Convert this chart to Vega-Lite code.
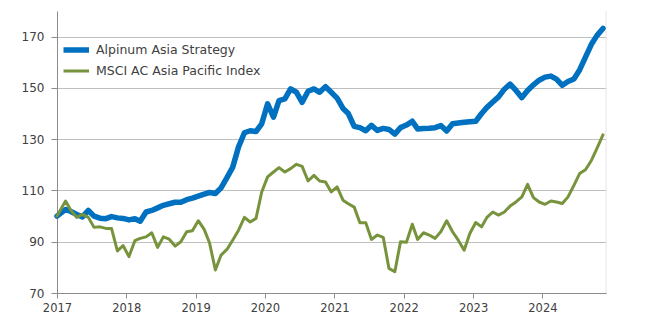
{
  "$schema": "https://vega.github.io/schema/vega-lite/v6.json",
  "width": 549,
  "height": 282,
  "autosize": {"type": "none"},
  "padding": {"left": 57, "top": 11, "right": 40, "bottom": 30},
  "background": "white",
  "config": {
    "view": {"stroke": null},
    "font": "DejaVu Sans",
    "axis": {"labelFont": "DejaVu Sans", "labelFontSize": 12, "labelColor": "#404040", "domainColor": "#8c8c8c", "tickColor": "#8c8c8c", "title": null}
  },
  "layer": [
    {
      "data": {"values": [{"edge": "right"}]},
      "mark": {"type": "rule", "color": "#e6e6e6", "strokeWidth": 1},
      "encoding": {
        "x": {"datum": {"year": 2024, "month": 12, "date": 1, "utc": true}, "type": "temporal", "scale": {"type": "utc"}}
      }
    },
    {
      "data": {"values": [
        {"date": "2017-01-01", "Alpinum Asia Strategy": 100, "MSCI AC Asia Pacific Index": 100},
        {"date": "2017-02-15", "Alpinum Asia Strategy": 102.6, "MSCI AC Asia Pacific Index": 105.9},
        {"date": "2017-03-15", "Alpinum Asia Strategy": 101.8, "MSCI AC Asia Pacific Index": 102.3},
        {"date": "2017-04-15", "Alpinum Asia Strategy": 100.6, "MSCI AC Asia Pacific Index": 99.5},
        {"date": "2017-05-15", "Alpinum Asia Strategy": 99.7, "MSCI AC Asia Pacific Index": 100.7},
        {"date": "2017-06-15", "Alpinum Asia Strategy": 102.2, "MSCI AC Asia Pacific Index": 99.5},
        {"date": "2017-07-15", "Alpinum Asia Strategy": 100, "MSCI AC Asia Pacific Index": 95.6},
        {"date": "2017-08-15", "Alpinum Asia Strategy": 99.2, "MSCI AC Asia Pacific Index": 95.8},
        {"date": "2017-09-15", "Alpinum Asia Strategy": 99, "MSCI AC Asia Pacific Index": 95.2},
        {"date": "2017-10-15", "Alpinum Asia Strategy": 99.8, "MSCI AC Asia Pacific Index": 95.2},
        {"date": "2017-11-15", "Alpinum Asia Strategy": 99.3, "MSCI AC Asia Pacific Index": 86.4},
        {"date": "2017-12-15", "Alpinum Asia Strategy": 99.1, "MSCI AC Asia Pacific Index": 88.5},
        {"date": "2018-01-15", "Alpinum Asia Strategy": 98.5, "MSCI AC Asia Pacific Index": 84.2},
        {"date": "2018-02-15", "Alpinum Asia Strategy": 99, "MSCI AC Asia Pacific Index": 90.4},
        {"date": "2018-03-15", "Alpinum Asia Strategy": 98, "MSCI AC Asia Pacific Index": 91.3},
        {"date": "2018-04-15", "Alpinum Asia Strategy": 101.6, "MSCI AC Asia Pacific Index": 91.9},
        {"date": "2018-05-15", "Alpinum Asia Strategy": 102.2, "MSCI AC Asia Pacific Index": 93.5},
        {"date": "2018-06-15", "Alpinum Asia Strategy": 103.2, "MSCI AC Asia Pacific Index": 87.8},
        {"date": "2018-07-15", "Alpinum Asia Strategy": 104.2, "MSCI AC Asia Pacific Index": 91.9},
        {"date": "2018-08-15", "Alpinum Asia Strategy": 104.8, "MSCI AC Asia Pacific Index": 91},
        {"date": "2018-09-15", "Alpinum Asia Strategy": 105.4, "MSCI AC Asia Pacific Index": 88.3},
        {"date": "2018-10-15", "Alpinum Asia Strategy": 105.4, "MSCI AC Asia Pacific Index": 90},
        {"date": "2018-11-15", "Alpinum Asia Strategy": 106.4, "MSCI AC Asia Pacific Index": 93.9},
        {"date": "2018-12-15", "Alpinum Asia Strategy": 107, "MSCI AC Asia Pacific Index": 94.3},
        {"date": "2019-01-15", "Alpinum Asia Strategy": 107.8, "MSCI AC Asia Pacific Index": 98.2},
        {"date": "2019-02-15", "Alpinum Asia Strategy": 108.6, "MSCI AC Asia Pacific Index": 94.8},
        {"date": "2019-03-15", "Alpinum Asia Strategy": 109.2, "MSCI AC Asia Pacific Index": 89.6},
        {"date": "2019-04-15", "Alpinum Asia Strategy": 108.8, "MSCI AC Asia Pacific Index": 79},
        {"date": "2019-05-15", "Alpinum Asia Strategy": 111, "MSCI AC Asia Pacific Index": 84.8},
        {"date": "2019-06-15", "Alpinum Asia Strategy": 115, "MSCI AC Asia Pacific Index": 87},
        {"date": "2019-07-15", "Alpinum Asia Strategy": 119, "MSCI AC Asia Pacific Index": 90.6},
        {"date": "2019-08-15", "Alpinum Asia Strategy": 127, "MSCI AC Asia Pacific Index": 94.5},
        {"date": "2019-09-15", "Alpinum Asia Strategy": 132.5, "MSCI AC Asia Pacific Index": 99.5},
        {"date": "2019-10-15", "Alpinum Asia Strategy": 133.3, "MSCI AC Asia Pacific Index": 97.7},
        {"date": "2019-11-15", "Alpinum Asia Strategy": 133, "MSCI AC Asia Pacific Index": 99.1},
        {"date": "2019-12-15", "Alpinum Asia Strategy": 136, "MSCI AC Asia Pacific Index": 109.4},
        {"date": "2020-01-15", "Alpinum Asia Strategy": 143.8, "MSCI AC Asia Pacific Index": 115.3},
        {"date": "2020-02-15", "Alpinum Asia Strategy": 138.6, "MSCI AC Asia Pacific Index": 117.2},
        {"date": "2020-03-15", "Alpinum Asia Strategy": 145, "MSCI AC Asia Pacific Index": 118.9},
        {"date": "2020-04-15", "Alpinum Asia Strategy": 145.7, "MSCI AC Asia Pacific Index": 117.2},
        {"date": "2020-05-15", "Alpinum Asia Strategy": 149.6, "MSCI AC Asia Pacific Index": 118.5},
        {"date": "2020-06-15", "Alpinum Asia Strategy": 148.3, "MSCI AC Asia Pacific Index": 120.2},
        {"date": "2020-07-15", "Alpinum Asia Strategy": 144.4, "MSCI AC Asia Pacific Index": 119.4},
        {"date": "2020-08-15", "Alpinum Asia Strategy": 148.7, "MSCI AC Asia Pacific Index": 113.7},
        {"date": "2020-09-15", "Alpinum Asia Strategy": 149.6, "MSCI AC Asia Pacific Index": 115.9},
        {"date": "2020-10-15", "Alpinum Asia Strategy": 148.3, "MSCI AC Asia Pacific Index": 113.7},
        {"date": "2020-11-15", "Alpinum Asia Strategy": 150.5, "MSCI AC Asia Pacific Index": 113.3},
        {"date": "2020-12-15", "Alpinum Asia Strategy": 148.3, "MSCI AC Asia Pacific Index": 109.4},
        {"date": "2021-01-15", "Alpinum Asia Strategy": 146, "MSCI AC Asia Pacific Index": 111.4},
        {"date": "2021-02-15", "Alpinum Asia Strategy": 142, "MSCI AC Asia Pacific Index": 106.2},
        {"date": "2021-03-15", "Alpinum Asia Strategy": 140, "MSCI AC Asia Pacific Index": 104.8},
        {"date": "2021-04-15", "Alpinum Asia Strategy": 135, "MSCI AC Asia Pacific Index": 103.5},
        {"date": "2021-05-15", "Alpinum Asia Strategy": 134.5, "MSCI AC Asia Pacific Index": 97.4},
        {"date": "2021-06-15", "Alpinum Asia Strategy": 133.3, "MSCI AC Asia Pacific Index": 97.4},
        {"date": "2021-07-15", "Alpinum Asia Strategy": 135.4, "MSCI AC Asia Pacific Index": 90.9},
        {"date": "2021-08-15", "Alpinum Asia Strategy": 133.4, "MSCI AC Asia Pacific Index": 92.6},
        {"date": "2021-09-15", "Alpinum Asia Strategy": 134.2, "MSCI AC Asia Pacific Index": 91.7},
        {"date": "2021-10-15", "Alpinum Asia Strategy": 133.8, "MSCI AC Asia Pacific Index": 79.6},
        {"date": "2021-11-15", "Alpinum Asia Strategy": 132, "MSCI AC Asia Pacific Index": 78.3},
        {"date": "2021-12-15", "Alpinum Asia Strategy": 134.5, "MSCI AC Asia Pacific Index": 90},
        {"date": "2022-01-15", "Alpinum Asia Strategy": 135.5, "MSCI AC Asia Pacific Index": 89.8},
        {"date": "2022-02-15", "Alpinum Asia Strategy": 137, "MSCI AC Asia Pacific Index": 96.8},
        {"date": "2022-03-15", "Alpinum Asia Strategy": 134, "MSCI AC Asia Pacific Index": 90.9},
        {"date": "2022-04-15", "Alpinum Asia Strategy": 134.2, "MSCI AC Asia Pacific Index": 93.5},
        {"date": "2022-05-15", "Alpinum Asia Strategy": 134.3, "MSCI AC Asia Pacific Index": 92.6},
        {"date": "2022-06-15", "Alpinum Asia Strategy": 134.5, "MSCI AC Asia Pacific Index": 91.3},
        {"date": "2022-07-15", "Alpinum Asia Strategy": 135.3, "MSCI AC Asia Pacific Index": 93.9},
        {"date": "2022-08-15", "Alpinum Asia Strategy": 133.2, "MSCI AC Asia Pacific Index": 98.2},
        {"date": "2022-09-15", "Alpinum Asia Strategy": 136, "MSCI AC Asia Pacific Index": 93.9},
        {"date": "2022-10-15", "Alpinum Asia Strategy": 136.3, "MSCI AC Asia Pacific Index": 90.6},
        {"date": "2022-11-15", "Alpinum Asia Strategy": 136.6, "MSCI AC Asia Pacific Index": 86.7},
        {"date": "2022-12-15", "Alpinum Asia Strategy": 136.8, "MSCI AC Asia Pacific Index": 93.2},
        {"date": "2023-01-15", "Alpinum Asia Strategy": 137, "MSCI AC Asia Pacific Index": 97.5},
        {"date": "2023-02-15", "Alpinum Asia Strategy": 140, "MSCI AC Asia Pacific Index": 95.8},
        {"date": "2023-03-15", "Alpinum Asia Strategy": 142.4, "MSCI AC Asia Pacific Index": 99.5},
        {"date": "2023-04-15", "Alpinum Asia Strategy": 144.5, "MSCI AC Asia Pacific Index": 101.6},
        {"date": "2023-05-15", "Alpinum Asia Strategy": 146.5, "MSCI AC Asia Pacific Index": 100.4},
        {"date": "2023-06-15", "Alpinum Asia Strategy": 149.5, "MSCI AC Asia Pacific Index": 101.6},
        {"date": "2023-07-15", "Alpinum Asia Strategy": 151.5, "MSCI AC Asia Pacific Index": 103.9},
        {"date": "2023-08-15", "Alpinum Asia Strategy": 149, "MSCI AC Asia Pacific Index": 105.5},
        {"date": "2023-09-15", "Alpinum Asia Strategy": 146.2, "MSCI AC Asia Pacific Index": 107.5},
        {"date": "2023-10-15", "Alpinum Asia Strategy": 149, "MSCI AC Asia Pacific Index": 112.4},
        {"date": "2023-11-15", "Alpinum Asia Strategy": 151.2, "MSCI AC Asia Pacific Index": 107.2},
        {"date": "2023-12-15", "Alpinum Asia Strategy": 153, "MSCI AC Asia Pacific Index": 105.5},
        {"date": "2024-01-15", "Alpinum Asia Strategy": 154.2, "MSCI AC Asia Pacific Index": 104.6},
        {"date": "2024-02-15", "Alpinum Asia Strategy": 154.6, "MSCI AC Asia Pacific Index": 105.9},
        {"date": "2024-03-15", "Alpinum Asia Strategy": 153.4, "MSCI AC Asia Pacific Index": 105.5},
        {"date": "2024-04-15", "Alpinum Asia Strategy": 151, "MSCI AC Asia Pacific Index": 104.9},
        {"date": "2024-05-15", "Alpinum Asia Strategy": 152.5, "MSCI AC Asia Pacific Index": 107.5},
        {"date": "2024-06-15", "Alpinum Asia Strategy": 153.5, "MSCI AC Asia Pacific Index": 112},
        {"date": "2024-07-15", "Alpinum Asia Strategy": 157, "MSCI AC Asia Pacific Index": 116.6},
        {"date": "2024-08-15", "Alpinum Asia Strategy": 162, "MSCI AC Asia Pacific Index": 118.1},
        {"date": "2024-09-15", "Alpinum Asia Strategy": 167, "MSCI AC Asia Pacific Index": 121.7},
        {"date": "2024-10-15", "Alpinum Asia Strategy": 170.5, "MSCI AC Asia Pacific Index": 126.5},
        {"date": "2024-11-15", "Alpinum Asia Strategy": 173.2, "MSCI AC Asia Pacific Index": 131.7}
      ]},
      "transform": [{"fold": ["Alpinum Asia Strategy", "MSCI AC Asia Pacific Index"], "as": ["series", "value"]}],
      "encoding": {
        "x": {
          "field": "date", "type": "temporal",
          "scale": {"type": "utc", "domain": [{"year": 2017, "month": 1, "date": 1, "utc": true}, {"year": 2024, "month": 12, "date": 1, "utc": true}]},
          "axis": {
            "values": [
              {"year": 2017, "month": 1, "date": 1, "utc": true},
              {"year": 2018, "month": 1, "date": 1, "utc": true},
              {"year": 2019, "month": 1, "date": 1, "utc": true},
              {"year": 2020, "month": 1, "date": 1, "utc": true},
              {"year": 2021, "month": 1, "date": 1, "utc": true},
              {"year": 2022, "month": 1, "date": 1, "utc": true},
              {"year": 2023, "month": 1, "date": 1, "utc": true},
              {"year": 2024, "month": 1, "date": 1, "utc": true}
            ],
            "format": "%Y", "grid": false, "tickSize": 5, "labelPadding": 4, "labelFontSize": 11.5, "labelFlush": false, "labelOverlap": false
          }
        },
        "y": {
          "field": "value", "type": "quantitative",
          "scale": {"domain": [70, 180], "nice": false, "zero": false},
          "axis": {"values": [70, 90, 110, 130, 150, 170], "grid": true, "gridColor": "#bfbfbf", "tickSize": 6, "labelPadding": 7}
        },
        "color": {
          "field": "series", "type": "nominal",
          "scale": {"domain": ["Alpinum Asia Strategy", "MSCI AC Asia Pacific Index"], "range": ["#0070C0", "#77933C"]},
          "legend": {"title": null, "orient": "none", "legendX": 6.5, "legendY": 31.5, "symbolType": "M-2,0H2", "symbolSize": 225, "clipHeight": 15, "labelFontSize": 12.5, "labelFont": "DejaVu Sans", "labelColor": "#404040", "labelOffset": 11.5, "labelLimit": 400, "rowPadding": 6, "padding": 0}
        },
        "strokeWidth": {
          "field": "series", "type": "nominal",
          "scale": {"domain": ["Alpinum Asia Strategy", "MSCI AC Asia Pacific Index"], "range": [5.5, 3]},
          "legend": {"title": null, "orient": "none", "legendX": 6.5, "legendY": 31.5, "symbolType": "M-2,0H2", "symbolSize": 225, "clipHeight": 15, "labelFontSize": 12.5, "labelFont": "DejaVu Sans", "labelColor": "#404040", "labelOffset": 11.5, "labelLimit": 400, "rowPadding": 6, "padding": 0}
        }
      },
      "layer": [
        {"transform": [{"filter": "datum.series === 'Alpinum Asia Strategy'"}], "mark": {"type": "line", "strokeCap": "round", "strokeJoin": "round"}},
        {"transform": [{"filter": "datum.series === 'MSCI AC Asia Pacific Index'"}], "mark": {"type": "line", "strokeCap": "round", "strokeJoin": "round"}}
      ]
    }
  ]
}
